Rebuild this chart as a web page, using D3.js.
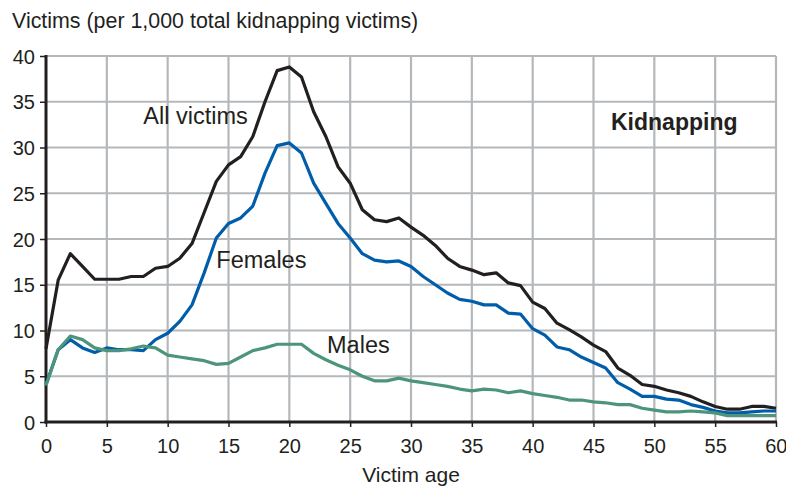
<!DOCTYPE html>
<html>
<head>
<meta charset="utf-8">
<script src="https://cdn.jsdelivr.net/npm/d3@7"></script>
<style>
  html, body { margin: 0; padding: 0; background: #fff; }
  svg { display: block; }
  text { font-family: "Liberation Sans", Arial, Helvetica, sans-serif; fill: #231f20; }
</style>
</head>
<body>
<svg id="chart" width="786" height="487"></svg>
<script>
// Victims per 1,000 total kidnapping victims, by single year of age 0–60
const ages = d3.range(0, 61);

const allVictims = [
  8.0, 15.5, 18.4, 17.0, 15.6, 15.6, 15.6, 15.9, 15.9, 16.8,
  17.0, 17.9, 19.5, 22.9, 26.3, 28.1, 29.0, 31.2, 35.0, 38.4,
  38.8, 37.7, 33.9, 31.2, 27.9, 26.1, 23.2, 22.1, 21.9, 22.3,
  21.3, 20.4, 19.3, 17.9, 17.0, 16.6, 16.1, 16.3, 15.2, 14.9,
  13.1, 12.4, 10.8, 10.1, 9.3, 8.4, 7.7, 5.9, 5.1, 4.1,
  3.9, 3.5, 3.2, 2.8, 2.2, 1.7, 1.4, 1.4, 1.7, 1.7,
  1.5
];

const females = [
  4.1, 7.9, 9.0, 8.1, 7.6, 8.1, 7.9, 7.9, 7.8, 9.0,
  9.7, 11.0, 12.8, 16.3, 20.1, 21.7, 22.3, 23.6, 27.2, 30.2,
  30.5, 29.4, 26.1, 23.9, 21.7, 20.1, 18.4, 17.7, 17.5, 17.6,
  17.0, 15.9, 15.0, 14.1, 13.4, 13.2, 12.8, 12.8, 11.9, 11.8,
  10.2, 9.5, 8.2, 7.9, 7.1, 6.5, 5.9, 4.3, 3.6, 2.8,
  2.8, 2.5, 2.4, 1.9, 1.6, 1.2, 1.0, 1.0, 1.1, 1.2,
  1.2
];

const males = [
  4.0, 7.9, 9.4, 9.0, 8.1, 7.8, 7.8, 8.0, 8.3, 8.1,
  7.3, 7.1, 6.9, 6.7, 6.3, 6.4, 7.1, 7.8, 8.1, 8.5,
  8.5, 8.5, 7.5, 6.8, 6.2, 5.7, 5.0, 4.5, 4.5, 4.8,
  4.5, 4.3, 4.1, 3.9, 3.6, 3.4, 3.6, 3.5, 3.2, 3.4,
  3.1, 2.9, 2.7, 2.4, 2.4, 2.2, 2.1, 1.9, 1.9, 1.5,
  1.3, 1.1, 1.1, 1.2, 1.1, 1.0, 0.7, 0.7, 0.7, 0.7,
  0.7
];

const xTicks = d3.range(0, 61, 5);
const yTicks = d3.range(0, 41, 5);

const series = [
  { name: "All victims", values: allVictims, color: "#231f20", label: { age: 8.0, value: 32.6 } },
  { name: "Females",     values: females,    color: "#005daa", label: { age: 14.0, value: 16.8 } },
  { name: "Males",       values: males,      color: "#4c957a", label: { age: 23.1, value: 7.5 } }
];

const margin = { left: 46, right: 10, top: 56, bottom: 65 };
const svg = d3.select("#chart");

const x = d3.scaleLinear().domain([0, 60]).range([margin.left, 776]);
const y = d3.scaleLinear().domain([0, 40]).range([422, margin.top]);

// grid
const grid = svg.append("g").attr("stroke", "#b5b8bb").attr("stroke-width", 2.2);
grid.selectAll("line.v").data(xTicks.filter(d => d > 0)).join("line")
  .attr("x1", d => x(d)).attr("x2", d => x(d))
  .attr("y1", y(40)).attr("y2", y(0));
grid.selectAll("line.h").data(yTicks.filter(d => d > 0)).join("line")
  .attr("x1", x(0)).attr("x2", x(60))
  .attr("y1", d => y(d)).attr("y2", d => y(d));

// axes
const xAxis = d3.axisBottom(x).tickValues(xTicks).tickSize(5).tickPadding(12).tickFormat(d3.format("d"));
const yAxis = d3.axisLeft(y).tickValues(yTicks).tickSize(6).tickPadding(5).tickFormat(d3.format("d"));

const gx = svg.append("g").attr("transform", `translate(0,${y(0)})`).call(xAxis);
const gy = svg.append("g").attr("transform", `translate(${x(0)},0)`).call(yAxis);

[gx, gy].forEach(g => {
  g.select(".domain").remove();
  g.selectAll(".tick line").attr("stroke", "#231f20").attr("stroke-width", 1.5);
  g.selectAll(".tick text").attr("font-size", 20).attr("fill", "#231f20")
    .style("font-family", '"Liberation Sans", Arial, sans-serif');
});
gy.selectAll(".tick text").attr("dy", "0.36em");
// keep the last age label inside the frame
gx.selectAll(".tick text").filter(d => d === 60).attr("text-anchor", "end").attr("dx", 11);

// axis lines
svg.append("line").attr("x1", x(0)).attr("x2", x(0)).attr("y1", y(40) - 1).attr("y2", y(0) + 1.5)
  .attr("stroke", "#231f20").attr("stroke-width", 3);
svg.append("line").attr("x1", x(0) - 1.5).attr("x2", x(60) + 1).attr("y1", y(0)).attr("y2", y(0))
  .attr("stroke", "#231f20").attr("stroke-width", 3);

// data lines
const line = d3.line().x((d, i) => x(ages[i])).y(d => y(d));
svg.append("g").selectAll("path").data(series).join("path")
  .attr("d", d => line(d.values))
  .attr("fill", "none")
  .attr("stroke", d => d.color)
  .attr("stroke-width", 3.2)
  .attr("stroke-linejoin", "round");

// series labels
svg.append("g").selectAll("text").data(series).join("text")
  .attr("x", d => x(d.label.age))
  .attr("y", d => y(d.label.value))
  .attr("font-size", 23.5)
  .text(d => d.name);

svg.append("text")
  .attr("x", 611).attr("y", 130)
  .attr("font-size", 23).attr("font-weight", "bold")
  .text("Kidnapping");

// titles
svg.append("text")
  .attr("x", 12).attr("y", 28)
  .attr("font-size", 21.4)
  .text("Victims (per 1,000 total kidnapping victims)");

svg.append("text")
  .attr("x", (x(0) + x(60)) / 2).attr("y", 482)
  .attr("text-anchor", "middle")
  .attr("font-size", 21)
  .text("Victim age");
</script>
</body>
</html>
